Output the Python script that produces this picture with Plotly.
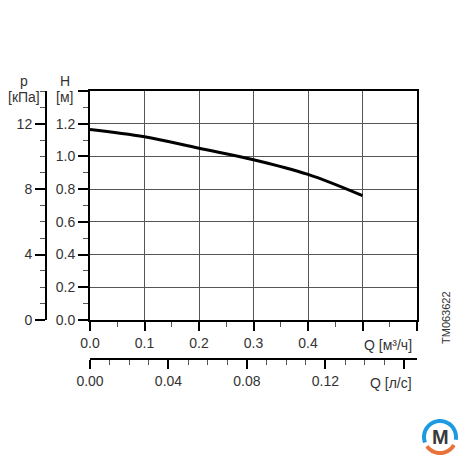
import plotly.graph_objects as go
import math

# Data
q_m3h = [0.0, 0.1, 0.2, 0.3, 0.4, 0.5]
head_m = [1.165, 1.12, 1.05, 0.98, 0.89, 0.76]

q_ticks = [0.0, 0.1, 0.2, 0.3, 0.4, 0.5, 0.6]
q_ticktext = ["0.0", "0.1", "0.2", "0.3", "0.4", "", ""]
ls_ticks = [0.0, 0.04, 0.08, 0.12, 0.16]
ls_ticktext = ["0.00", "0.04", "0.08", "0.12", ""]
h_ticks = [0.0, 0.2, 0.4, 0.6, 0.8, 1.0, 1.2, 1.4]
h_ticktext = ["0.0", "0.2", "0.4", "0.6", "0.8", "1.0", "1.2", ""]
p_ticks = [0, 4, 8, 12]
p_ticktext = ["0", "4", "8", "12"]

W = H = 460
def px(x):
    return x / W
def py(y):
    return (H - y) / H

FONT = "Liberation Sans, Arial, sans-serif"
TXT = "#333333"
FS = 14

xd = [px(90), px(417)]
yd = [py(320), py(91)]

fig = go.Figure()
fig.add_trace(go.Scatter(x=q_m3h, y=head_m, mode="lines", line=dict(color="black", width=3, shape="spline"),
                         xaxis="x", yaxis="y", showlegend=False, hoverinfo="skip"))
fig.add_trace(go.Scatter(x=[0, 0.6 / 3.6], y=[0, 0], mode="markers", marker=dict(opacity=0),
                         xaxis="x2", yaxis="y", showlegend=False, hoverinfo="skip"))
fig.add_trace(go.Scatter(x=[0, 0.6], y=[0, 14], mode="markers", marker=dict(opacity=0),
                         xaxis="x", yaxis="y2", showlegend=False, hoverinfo="skip"))

tickfont = dict(family=FONT, size=FS, color=TXT)

fig.update_layout(
    width=W, height=H, margin=dict(l=0, r=0, t=0, b=0, autoexpand=False),
    paper_bgcolor="white", plot_bgcolor="white",
    font=dict(family=FONT, color=TXT),
    xaxis=dict(domain=xd, range=[0, 0.6], anchor="y", automargin=False,
               tickmode="array", tickvals=q_ticks, ticktext=q_ticktext,
               showgrid=True, gridcolor="#555555", gridwidth=1,
               showline=True, linecolor="black", linewidth=2, mirror=True,
               ticks="outside", ticklen=9, tickwidth=2, tickcolor="black",
               tickfont=tickfont, zeroline=False,
               minor=dict(tickmode="linear", tick0=0, dtick=0.05, ticks="outside", ticklen=5,
                          tickwidth=1, tickcolor="#555555", showgrid=False)),
    yaxis=dict(domain=yd, range=[0, 1.4], anchor="x", automargin=False,
               tickmode="array", tickvals=h_ticks, ticktext=h_ticktext,
               showgrid=True, gridcolor="#555555", gridwidth=1,
               showline=True, linecolor="black", linewidth=2, mirror=True,
               ticks="outside", ticklen=10, tickwidth=2, tickcolor="black",
               tickfont=tickfont, zeroline=False,
               minor=dict(tickmode="linear", tick0=0, dtick=0.1, ticks="outside", ticklen=5,
                          tickwidth=1, tickcolor="#555555", showgrid=False)),
    xaxis2=dict(domain=xd, range=[0, 0.6 / 3.6], overlaying="x", anchor="free", automargin=False,
                position=py(359), side="bottom",
                tickmode="array", tickvals=ls_ticks, ticktext=ls_ticktext,
                showgrid=False, showline=True, linecolor="black", linewidth=2,
                ticks="outside", ticklen=9, tickwidth=2, tickcolor="black",
                tickfont=tickfont, zeroline=False,
                minor=dict(tickmode="linear", tick0=0, dtick=0.01, ticks="outside", ticklen=5,
                           tickwidth=1, tickcolor="#555555", showgrid=False)),
    yaxis2=dict(domain=yd, range=[0, 14], overlaying="y", anchor="free", automargin=False,
                position=px(46), side="left",
                tickmode="array", tickvals=p_ticks, ticktext=p_ticktext,
                showgrid=False, showline=True, linecolor="black", linewidth=2,
                ticks="outside", ticklen=10, tickwidth=2, tickcolor="black",
                tickfont=tickfont, zeroline=False,
                minor=dict(tickmode="linear", tick0=0, dtick=1, ticks="outside", ticklen=5,
                           tickwidth=1, tickcolor="#555555", showgrid=False)),
)

ann = [
    dict(text="H", x=px(65), y=py(81)),
    dict(text="[м]", x=px(64), y=py(97)),
    dict(text="p", x=px(24), y=py(81)),
    dict(text="[кПа]", x=px(24), y=py(97)),
    dict(text="Q [м³/ч]", x=px(388), y=py(345)),
    dict(text="Q [л/с]", x=px(391), y=py(383)),
]
for a in ann:
    fig.add_annotation(text=a["text"], x=a["x"], y=a["y"], xref="paper", yref="paper",
                       showarrow=False, font=dict(family=FONT, size=FS, color=TXT),
                       xanchor="center", yanchor="middle")
fig.add_annotation(text="TM063622", x=px(446), y=py(318), xref="paper", yref="paper",
                   showarrow=False, textangle=-90, font=dict(family=FONT, size=11, color=TXT),
                   xanchor="center", yanchor="middle")

# small brand mark (bottom right)
cx, cy, r = 440, 437, 16
def arc(a0, a1, n=30):
    pts = []
    for i in range(n + 1):
        a = math.radians(a0 + (a1 - a0) * i / n)
        pts.append((px(cx + r * math.cos(a)), py(cy - r * math.sin(a))))
    return "M " + " L ".join(f"{x:.4f},{y:.4f}" for x, y in pts)
fig.add_shape(type="path", path=arc(200, -10), xref="paper", yref="paper",
              line=dict(color="#1e9be0", width=4))
fig.add_shape(type="path", path=arc(215, 330), xref="paper", yref="paper",
              line=dict(color="#e8733a", width=4))
fig.add_annotation(text="<b>M</b>", x=px(cx), y=py(cy), xref="paper", yref="paper",
                   showarrow=False, font=dict(family=FONT, size=20, color="#3a3a3a"),
                   xanchor="center", yanchor="middle")

fig.write_html("out.html")
